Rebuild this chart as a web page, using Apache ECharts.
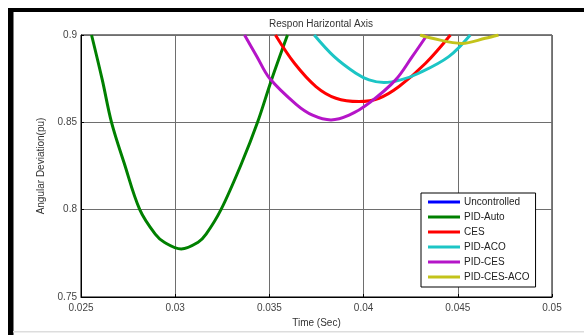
<!DOCTYPE html>
<html>
<head>
<meta charset="utf-8">
<script src="https://cdn.jsdelivr.net/npm/echarts@6/dist/echarts.min.js"></script>
<style>
  html, body { margin: 0; padding: 0; background: #fff; }
  #chart { width: 584px; height: 335px; }
</style>
</head>
<body>
<div id="chart"></div>
<script>
// values, [time, deviation]
const seriesNames = ['Uncontrolled', 'PID-Auto', 'CES', 'PID-ACO', 'PID-CES', 'PID-CES-ACO'];
const seriesColors = ['#0000ff', '#008000', '#ff0000', '#1cc5c5', '#b515c8', '#c3c31a'];

const uncontrolled = [];
const pidAuto = [
    [0.02556, 0.9], [0.02613, 0.8743], [0.02662, 0.85], [0.02729, 0.8267], [0.02812, 0.8],
    [0.02894, 0.786], [0.02944, 0.7812], [0.03032, 0.7775], [0.0312, 0.7812], [0.03164, 0.786],
    [0.03243, 0.8], [0.03353, 0.8267], [0.03437, 0.85], [0.03511, 0.8743], [0.03596, 0.9]
];
const ces = [
    [0.03532, 0.9], [0.03633, 0.8838], [0.03747, 0.8705], [0.03853, 0.8638], [0.03976, 0.8619],
    [0.04082, 0.8638], [0.04188, 0.8705], [0.04329, 0.8838], [0.04461, 0.9]
];
const pidAco = [
    [0.03738, 0.9], [0.03844, 0.8876], [0.03959, 0.8781], [0.04029, 0.8743], [0.04108, 0.8728],
    [0.04197, 0.8743], [0.04293, 0.8781], [0.04452, 0.8876], [0.04566, 0.9]
];
const pidCes = [
    [0.03368, 0.9], [0.03434, 0.8876], [0.03501, 0.8752], [0.03642, 0.8603], [0.03729, 0.8541],
    [0.03827, 0.8514], [0.03923, 0.8541], [0.04029, 0.861], [0.0417, 0.8743], [0.04258, 0.8876],
    [0.04337, 0.9]
];
const pidCesAco = [
    [0.043, 0.9], [0.04364, 0.8981], [0.04522, 0.8952], [0.04646, 0.8981], [0.04716, 0.9]
];
const allData = [uncontrolled, pidAuto, ces, pidAco, pidCes, pidCesAco];

const xTickLabels = ['0.025', '0.03', '0.035', '0.04', '0.045', '0.05'];
const yTickLabels = ['0.75', '0.8', '0.85', '0.9'];

const FONT = '"Liberation Sans", Arial, sans-serif';
const chart = echarts.init(document.getElementById('chart'), null, { renderer: 'canvas' });

const options = {
    animation: false,
    backgroundColor: '#fff',
    title: {
        text: 'Respon Harizontal Axis',
        left: 316,
        top: 14,
        textAlign: 'center',
        textStyle: { fontFamily: FONT, fontSize: 10, fontWeight: 'normal', color: '#333' }
    },
    grid: {
        left: 81,
        right: 32,
        top: 35,
        bottom: 38,
        show: true,
        borderColor: '#000',
        borderWidth: 1,
        containLabel: false
    },
    legend: {
        orient: 'vertical',
        left: 421,
        top: 193,
        backgroundColor: '#fff',
        borderColor: '#000',
        borderWidth: 1,
        padding: [3, 6, 4, 7],
        itemWidth: 32,
        itemHeight: 3,
        itemGap: 3,
        icon: 'rect',
        data: seriesNames,
        textStyle: { fontFamily: FONT, fontSize: 10, color: '#222', lineHeight: 12, padding: [0, 0, 0, -1] }
    },
    xAxis: {
        type: 'value',
        min: 0.025,
        max: 0.05,
        interval: 0.005,
        name: 'Time (Sec)',
        nameLocation: 'middle',
        nameGap: 20,
        nameTextStyle: { fontFamily: FONT, fontSize: 10, color: '#333' },
        axisLine: { show: true, lineStyle: { color: '#000', width: 1 } },
        axisTick: { show: true, inside: true, length: 3, lineStyle: { color: '#000' } },
        axisLabel: {
            fontFamily: FONT, fontSize: 10, color: '#444', margin: 6,
            formatter: function (v) {
                return xTickLabels[Math.round((v - 0.025) / 0.005)];
            }
        },
        splitLine: { show: true, lineStyle: { color: '#6e6e6e', width: 1 } }
    },
    yAxis: {
        type: 'value',
        min: 0.75,
        max: 0.9,
        interval: 0.05,
        name: 'Angular Deviation(pu)',
        nameLocation: 'middle',
        nameGap: 26,
        nameTextStyle: { fontFamily: FONT, fontSize: 10, color: '#333' },
        axisLine: { show: true, lineStyle: { color: '#000', width: 1 } },
        axisTick: { show: true, inside: true, length: 3, lineStyle: { color: '#000' } },
        axisLabel: {
            fontFamily: FONT, fontSize: 10, color: '#444', margin: 4,
            formatter: function (v) {
                return yTickLabels[Math.round((v - 0.75) / 0.05)];
            }
        },
        splitLine: { show: true, lineStyle: { color: '#6e6e6e', width: 1 } }
    },
    graphic: [
        { type: 'rect', shape: { x: 8, y: 8, width: 5.5, height: 327 }, style: { fill: '#000' } },
        { type: 'rect', shape: { x: 8, y: 8, width: 576, height: 4 }, style: { fill: '#000' } },
        { type: 'rect', shape: { x: 13, y: 331, width: 571, height: 1.5 }, style: { fill: '#ddd' } }
    ],
    series: []
};

for (let i = 0; i < seriesNames.length; i++) {
    options.series.push({
        name: seriesNames[i],
        type: 'line',
        data: allData[i],
        smooth: 0.35,
        smoothConstraint: false,
        showSymbol: false,
        clip: true,
        color: seriesColors[i],
        lineStyle: { width: 3, color: seriesColors[i] }
    });
}

chart.setOption(options, true);
</script>
</body>
</html>
